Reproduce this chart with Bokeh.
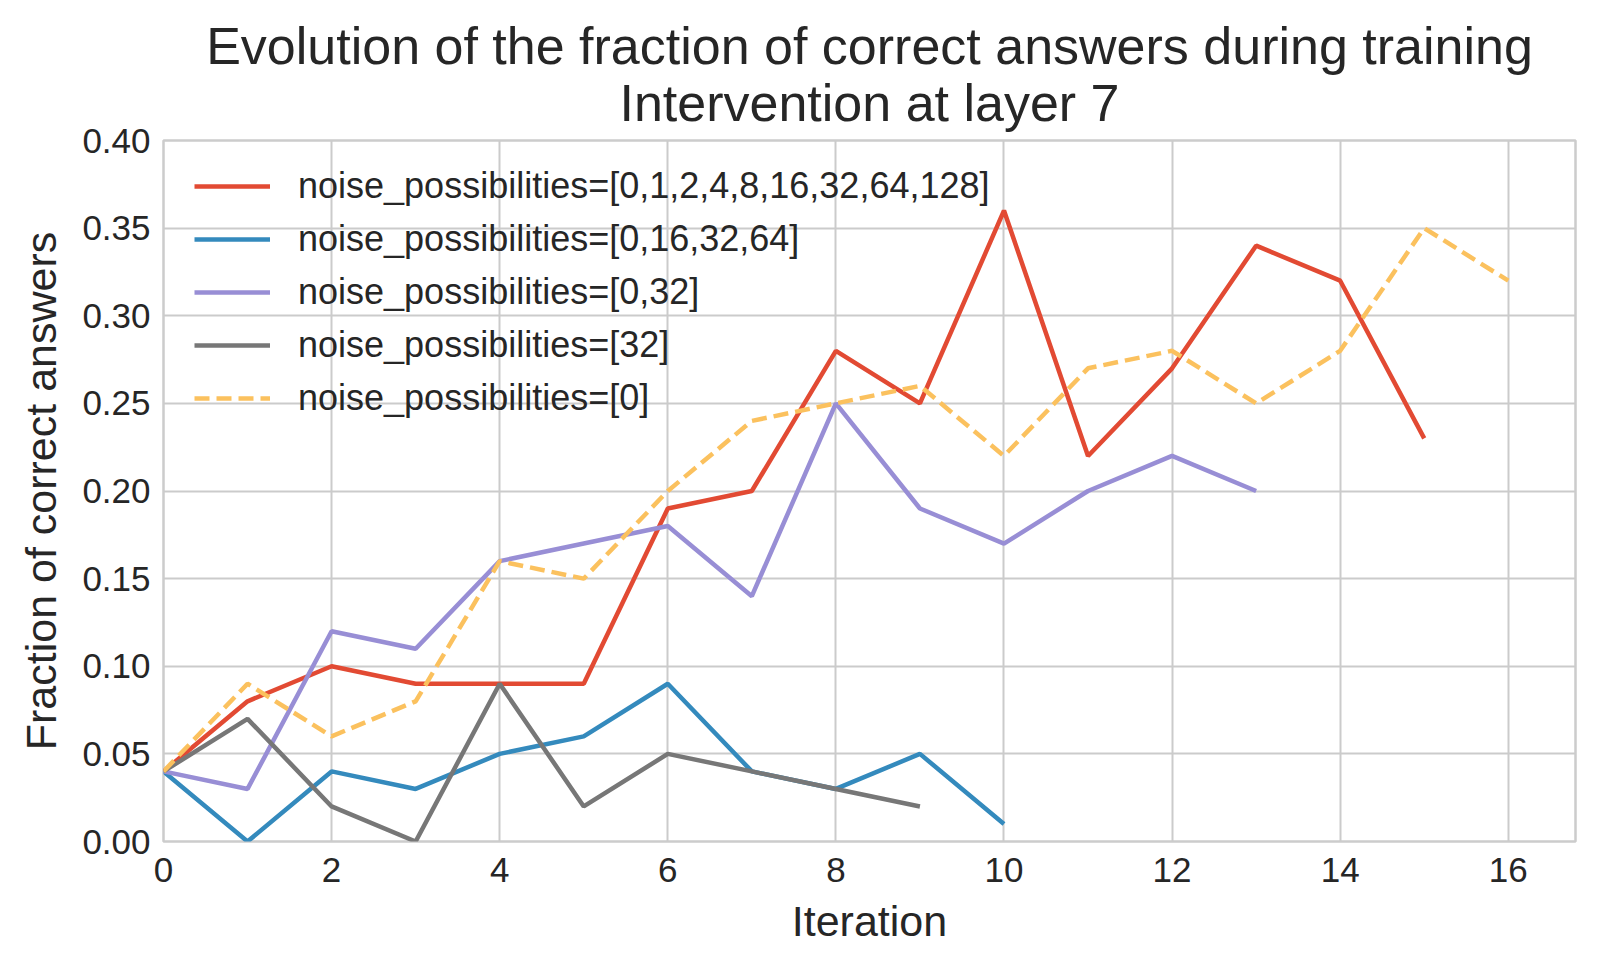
from bokeh.plotting import figure
from bokeh.models import Range1d, FixedTicker, LinearAxis, NumeralTickFormatter, Title, Legend, LegendItem
from bokeh.embed import file_html
from bokeh.resources import INLINE

iters_red = list(range(16))
red = [0.04, 0.08, 0.10, 0.09, 0.09, 0.09, 0.19, 0.20, 0.28, 0.25, 0.36, 0.22, 0.27, 0.34, 0.32, 0.23]
iters_blue = list(range(11))
blue = [0.04, 0.00, 0.04, 0.03, 0.05, 0.06, 0.09, 0.04, 0.03, 0.05, 0.01]
iters_purple = list(range(14))
purple = [0.04, 0.03, 0.12, 0.11, 0.16, 0.17, 0.18, 0.14, 0.25, 0.19, 0.17, 0.20, 0.22, 0.20]
iters_gray = list(range(10))
gray = [0.04, 0.07, 0.02, 0.00, 0.09, 0.02, 0.05, 0.04, 0.03, 0.02]
iters_yellow = list(range(17))
yellow = [0.04, 0.09, 0.06, 0.08, 0.16, 0.15, 0.20, 0.24, 0.25, 0.26, 0.22, 0.27, 0.28, 0.25, 0.28, 0.35, 0.32]

labels = [
    "noise_possibilities=[0,1,2,4,8,16,32,64,128]",
    "noise_possibilities=[0,16,32,64]",
    "noise_possibilities=[0,32]",
    "noise_possibilities=[32]",
    "noise_possibilities=[0]",
]
colors = ["#E24A33", "#348ABD", "#988ED5", "#777777", "#FBC15E"]
x_ticks = list(range(0, 17, 2))
y_ticks = [0.0, 0.05, 0.10, 0.15, 0.20, 0.25, 0.30, 0.35, 0.40]

FONT = "Liberation Sans"
TXT = "#262626"

p = figure(width=1600, height=965, output_backend="svg", toolbar_location=None,
           x_range=Range1d(0, 16.8), y_range=Range1d(0, 0.40),
           x_axis_location=None, y_axis_location=None,
           min_border_left=163, min_border_right=25, min_border_top=140, min_border_bottom=124)
p.background_fill_color = "white"
p.border_fill_color = "white"
p.outline_line_color = "#cccccc"
p.outline_line_width = 2.5

xa = LinearAxis(ticker=FixedTicker(ticks=x_ticks), axis_label="Iteration")
ya = LinearAxis(ticker=FixedTicker(ticks=y_ticks), axis_label="Fraction of correct answers",
                formatter=NumeralTickFormatter(format="0.00"))
for ax in (xa, ya):
    ax.major_tick_line_color = None
    ax.minor_tick_line_color = None
    ax.axis_line_color = None
    ax.major_label_text_font = FONT
    ax.major_label_text_font_size = "35px"
    ax.major_label_text_color = TXT
    ax.axis_label_text_font = FONT
    ax.axis_label_text_font_size = "43px"
    ax.axis_label_text_font_style = "normal"
    ax.axis_label_text_color = TXT
xa.major_label_standoff = 10
xa.axis_label_standoff = 12
ya.major_label_standoff = 7
ya.axis_label_standoff = 14
p.add_layout(xa, "below")
p.add_layout(ya, "left")

p.xgrid.ticker = FixedTicker(ticks=x_ticks)
p.ygrid.ticker = FixedTicker(ticks=y_ticks)
for g in (p.xgrid, p.ygrid):
    g.grid_line_color = "#cbcbcb"
    g.grid_line_width = 2

LW = 4.5
r1 = p.line(iters_red, red, line_color=colors[0], line_width=LW)
r2 = p.line(iters_blue, blue, line_color=colors[1], line_width=LW)
r3 = p.line(iters_purple, purple, line_color=colors[2], line_width=LW)
r4 = p.line(iters_gray, gray, line_color=colors[3], line_width=LW)
r5 = p.line(iters_yellow, yellow, line_color=colors[4], line_width=LW, line_dash="15 7")

legend = Legend(items=[LegendItem(label=l, renderers=[r]) for l, r in zip(labels, [r1, r2, r3, r4, r5])],
                location=(31, 422), margin=0, padding=0, spacing=11,
                glyph_width=76, glyph_height=40, label_height=40, label_standoff=28,
                label_text_font=FONT, label_text_font_size="36px", label_text_color=TXT,
                border_line_color=None, background_fill_alpha=0)
p.add_layout(legend, "center")

t2 = Title(text="Intervention at layer 7", align="center", text_font=FONT,
           text_font_size="52px", text_font_style="normal", text_color=TXT, standoff=18)
t1 = Title(text="Evolution of the fraction of correct answers during training", align="center",
           text_font=FONT, text_font_size="52px", text_font_style="normal", text_color=TXT, standoff=-24)
p.add_layout(t2, "above")
p.add_layout(t1, "above")

open("out.html", "w").write(file_html(p, INLINE))
